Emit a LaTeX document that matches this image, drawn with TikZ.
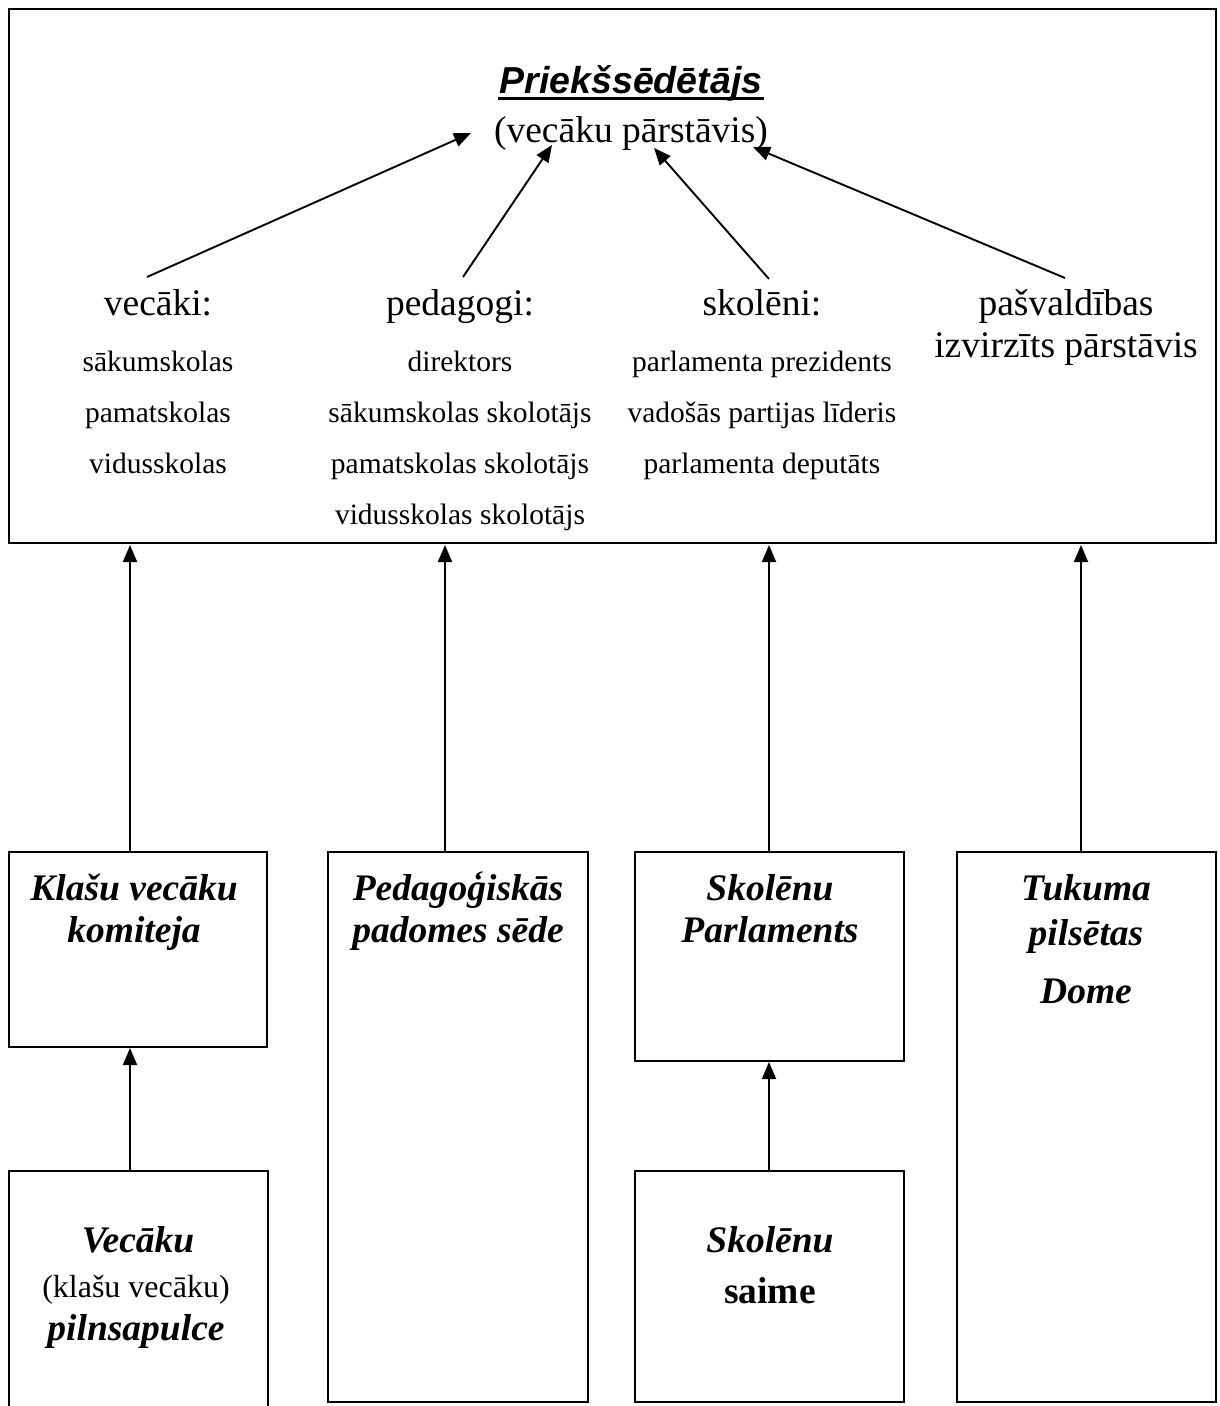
\documentclass[tikz,border=0pt]{standalone}
\usepackage{fontspec}
\setmainfont{Liberation Serif}
\newfontfamily\arialfont{Liberation Sans}
\usetikzlibrary{arrows.meta}
\begin{document}
\begin{tikzpicture}[x=1pt,y=-1pt,
  frame/.style={draw=black,line width=1.8pt},
  arr/.style={line width=1.9pt,-{Triangle[length=17pt,width=14pt]}},
  big/.style={anchor=base,inner sep=0pt,font=\fontsize{37.5}{40}\selectfont},
  small/.style={anchor=base,inner sep=0pt,font=\fontsize{29.5}{32}\selectfont},
  boxtxt/.style={anchor=base,inner sep=0pt,font=\fontsize{37.5}{40}\selectfont\bfseries\itshape},
  mid/.style={anchor=base,inner sep=0pt,font=\fontsize{32}{34}\selectfont}]
\useasboundingbox (0,0) rectangle (1219,1406);
\fill[white] (0,0) rectangle (1219,1406);

% frames
\draw[frame] (9,9) rectangle (1216,543);
\draw[frame] (9,852) rectangle (267,1047);
\draw[frame] (328,852) rectangle (588,1402);
\draw[frame] (635,852) rectangle (904,1061);
\draw[frame] (957,852) rectangle (1216,1402);
\draw[frame] (9,1410) -- (9,1171) -- (268,1171) -- (268,1410);
\draw[frame] (635,1171) rectangle (904,1402);

% top texts
\node[anchor=base,inner sep=0pt,font=\fontsize{37.5}{40}\arialfont\bfseries\itshape] (title) at (631,93) {Priekšsēdētājs};
\coordinate (ul1) at (498,98.5); \coordinate (ul2) at (764,98.5);
\draw[line width=3pt] (ul1) -- (ul2);
\node[big] (sub) at (631,142) {(vecāku pārstāvis)};

\node[big] (vec) at (158,315) {vecāki:};
\node[big] (ped) at (460,315) {pedagogi:};
\node[big] (sko) at (762,315) {skolēni:};
\node[big] (pas1) at (1066,315) {pašvaldības};
\node[big] (pas2) at (1066,357) {izvirzīts pārstāvis};

\node[small] (v1) at (158,371) {sākumskolas};
\node[small] (v2) at (158,422) {pamatskolas};
\node[small] (v3) at (158,473) {vidusskolas};

\node[small] (p1) at (460,371) {direktors};
\node[small] (p2) at (460,422) {sākumskolas skolotājs};
\node[small] (p3) at (460,473) {pamatskolas skolotājs};
\node[small] (p4) at (460,524) {vidusskolas skolotājs};

\node[small] (s1) at (762,371) {parlamenta prezidents};
\node[small] (s2) at (762,422) {vadošās partijas līderis};
\node[small] (s3) at (762,473) {parlamenta deputāts};

% box texts
\node[boxtxt] (k1) at (134,900) {Klašu vecāku};
\node[boxtxt] (k2) at (134,942) {komiteja};
\node[boxtxt] (d1) at (458,900) {Pedagoģiskās};
\node[boxtxt] (d2) at (458,942) {padomes sēde};
\node[boxtxt] (sp1) at (770,900) {Skolēnu};
\node[boxtxt] (sp2) at (770,942) {Parlaments};
\node[boxtxt] (t1) at (1086,900) {Tukuma};
\node[boxtxt] (t2) at (1086,945) {pilsētas};
\node[boxtxt] (t3) at (1086,1003) {Dome};
\node[boxtxt] (pv1) at (138,1252) {Vecāku};
\node[mid] (pv2) at (136,1297) {(klašu vecāku)};
\node[boxtxt] (pv3) at (136,1340) {pilnsapulce};
\node[boxtxt] (ss1) at (770,1252) {Skolēnu};
\node[anchor=base,inner sep=0pt,font=\fontsize{37.5}{40}\selectfont\bfseries] (ss2) at (770,1303) {saime};

% connector coordinates
\coordinate (a1s) at (147,277); \coordinate (a1e) at (471,133);
\coordinate (a2s) at (463,277); \coordinate (a2e) at (552,145);
\coordinate (a3s) at (769,279); \coordinate (a3e) at (654,148);
\coordinate (a4s) at (1065,278); \coordinate (a4e) at (753,147);

\coordinate (u1s) at (130,852); \coordinate (u1e) at (130,545);
\coordinate (u2s) at (445,852); \coordinate (u2e) at (445,545);
\coordinate (u3s) at (769,852); \coordinate (u3e) at (769,545);
\coordinate (u4s) at (1081,852); \coordinate (u4e) at (1081,545);

\coordinate (l1s) at (130,1171); \coordinate (l1e) at (130,1048);
\coordinate (l2s) at (769,1171); \coordinate (l2e) at (769,1062);

\draw[arr] (a1s) -- (a1e);
\draw[arr] (a2s) -- (a2e);
\draw[arr] (a3s) -- (a3e);
\draw[arr] (a4s) -- (a4e);
\draw[arr] (u1s) -- (u1e);
\draw[arr] (u2s) -- (u2e);
\draw[arr] (u3s) -- (u3e);
\draw[arr] (u4s) -- (u4e);
\draw[arr] (l1s) -- (l1e);
\draw[arr] (l2s) -- (l2e);
\end{tikzpicture}
\end{document}
